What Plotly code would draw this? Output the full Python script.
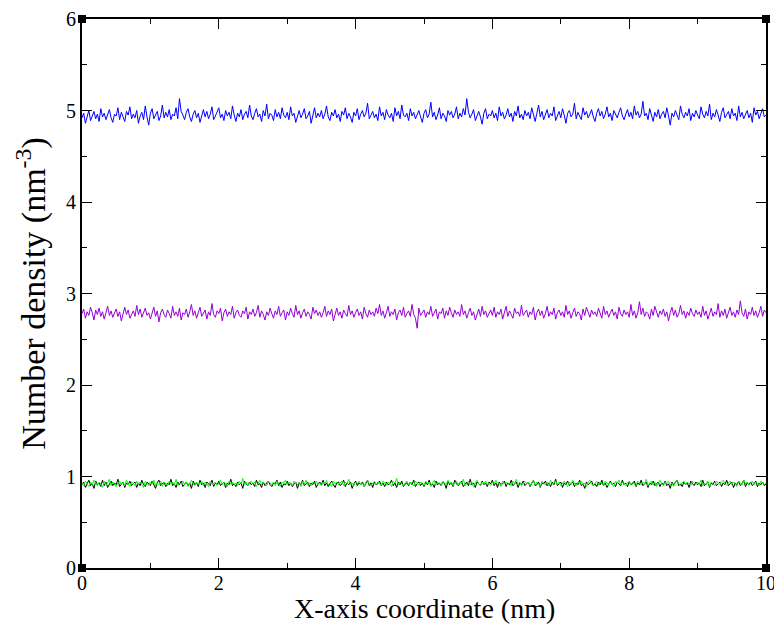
import plotly.graph_objects as go

x_step = 0.025
n_points = 401
x_vals = [round(i * x_step, 4) for i in range(n_points)]

blue_vals = [
4.92,4.97,4.86,4.94,5.00,4.89,4.95,4.99,4.91,4.96,4.88,5.02,4.93,4.97,4.90,4.95,5.01,4.92,4.87,4.96,
4.94,5.03,4.90,4.98,4.93,4.88,4.99,4.95,5.04,4.91,4.96,4.92,5.00,4.86,4.94,4.98,4.90,5.05,4.93,4.84,
4.97,5.02,4.91,4.95,4.99,4.89,4.94,5.06,4.92,4.98,4.93,5.01,4.90,4.96,4.94,5.03,4.91,5.13,4.99,4.95,
4.90,4.98,5.02,4.93,4.88,4.96,5.00,4.92,4.97,4.87,4.95,5.01,4.93,4.99,4.91,4.96,5.04,4.90,4.94,4.98,
5.03,4.92,4.96,4.89,5.00,4.94,4.98,4.91,5.05,4.95,4.88,4.97,4.93,5.01,4.90,4.96,4.99,4.92,5.06,4.94,
4.90,4.97,5.02,4.93,4.96,4.88,5.00,4.94,5.07,4.91,4.97,4.95,4.89,5.01,4.93,4.98,4.91,5.03,4.95,4.92,
4.98,4.90,5.04,4.94,4.97,4.87,4.95,5.00,4.92,4.96,5.02,4.91,4.94,4.99,4.86,4.95,5.03,4.92,4.97,4.93,
5.00,4.91,4.96,5.05,4.93,4.89,4.98,4.94,5.01,4.92,4.96,4.88,4.99,4.95,5.03,4.91,4.97,4.93,4.87,4.98,
4.94,5.02,4.90,4.96,5.00,4.93,4.97,5.08,4.91,4.95,4.99,4.92,4.96,4.89,5.04,4.94,4.98,4.90,5.01,4.95,
4.92,4.97,4.88,5.03,4.94,4.99,4.91,5.06,4.95,4.93,4.97,4.89,5.02,4.94,4.98,4.91,4.96,5.00,4.93,4.87,
4.97,5.01,4.92,4.96,5.09,4.93,4.98,4.90,4.95,5.03,4.91,4.97,4.94,4.88,5.00,4.95,4.99,4.92,4.96,5.04,
4.91,4.97,4.93,5.02,4.95,5.13,4.98,4.92,4.96,5.01,4.89,4.95,4.99,4.93,4.85,4.97,5.02,4.91,4.96,4.94,
5.00,4.92,4.97,4.89,5.04,4.94,4.98,4.91,4.95,5.02,4.93,4.97,4.88,4.99,4.94,5.05,4.92,4.96,4.90,5.00,
4.94,4.98,4.91,5.03,4.95,4.88,4.97,5.06,4.93,4.99,4.90,4.96,5.01,4.92,4.97,4.94,5.04,4.89,4.95,4.99,
4.92,5.02,4.95,4.86,4.97,5.00,4.93,4.96,5.08,4.91,4.98,4.94,4.90,5.03,4.95,4.99,4.92,4.96,5.01,4.93,
4.88,4.97,5.02,4.94,4.99,4.91,4.96,5.04,4.93,4.97,4.89,5.00,4.95,4.92,4.98,5.03,4.94,4.90,4.96,5.01,
4.93,4.98,4.91,5.05,4.95,4.99,4.92,4.96,5.10,4.94,4.97,4.90,5.02,4.95,4.88,4.98,4.93,5.01,4.91,4.96,
4.99,4.92,5.03,4.94,4.84,4.97,4.93,5.00,4.95,4.90,5.05,4.96,4.92,4.98,4.94,5.02,4.89,4.97,4.93,5.00,
4.95,4.91,5.04,4.96,4.92,4.99,4.94,5.07,4.90,4.97,4.93,5.01,4.95,4.88,4.98,5.03,4.92,4.96,4.99,4.91,
5.02,4.94,4.97,4.89,5.05,4.93,4.98,4.91,4.96,5.00,4.92,4.97,4.87,5.03,4.95,4.99,4.91,4.96,5.02,4.93,
4.95]

purple_vals = [
2.78,2.83,2.73,2.80,2.76,2.85,2.79,2.71,2.82,2.77,2.84,2.75,2.80,2.72,2.79,2.86,2.76,2.81,2.74,2.78,
2.83,2.75,2.80,2.70,2.79,2.85,2.77,2.82,2.73,2.78,2.81,2.75,2.87,2.77,2.83,2.74,2.80,2.84,2.76,2.79,
2.72,2.78,2.85,2.75,2.81,2.69,2.79,2.83,2.77,2.74,2.82,2.78,2.73,2.86,2.76,2.80,2.75,2.84,2.71,2.79,
2.77,2.83,2.74,2.80,2.88,2.76,2.81,2.73,2.78,2.85,2.75,2.79,2.82,2.72,2.80,2.76,2.89,2.77,2.74,2.81,
2.78,2.84,2.70,2.79,2.83,2.75,2.80,2.77,2.86,2.73,2.79,2.82,2.76,2.74,2.81,2.78,2.85,2.72,2.80,2.77,
2.83,2.75,2.79,2.87,2.74,2.81,2.77,2.71,2.80,2.76,2.84,2.78,2.73,2.81,2.77,2.86,2.75,2.79,2.82,2.71,
2.80,2.76,2.84,2.78,2.74,2.87,2.77,2.81,2.73,2.79,2.83,2.75,2.80,2.77,2.72,2.85,2.78,2.82,2.76,2.80,
2.74,2.79,2.86,2.75,2.81,2.77,2.83,2.70,2.79,2.84,2.76,2.80,2.73,2.82,2.78,2.75,2.87,2.77,2.81,2.74,
2.79,2.83,2.76,2.80,2.72,2.85,2.78,2.74,2.82,2.77,2.80,2.75,2.84,2.78,2.88,2.76,2.81,2.73,2.79,2.86,
2.75,2.80,2.77,2.83,2.71,2.79,2.82,2.76,2.85,2.74,2.78,2.81,2.75,2.88,2.77,2.73,2.62,2.84,2.76,2.79,
2.82,2.74,2.80,2.77,2.86,2.75,2.79,2.83,2.72,2.80,2.78,2.84,2.73,2.81,2.76,2.85,2.79,2.74,2.82,2.77,
2.80,2.75,2.88,2.77,2.81,2.73,2.79,2.84,2.76,2.80,2.71,2.78,2.83,2.75,2.86,2.77,2.81,2.74,2.79,2.82,
2.76,2.85,2.74,2.80,2.77,2.83,2.72,2.79,2.86,2.75,2.81,2.77,2.73,2.84,2.78,2.80,2.75,2.87,2.76,2.79,
2.82,2.74,2.80,2.77,2.85,2.71,2.79,2.83,2.76,2.81,2.73,2.78,2.86,2.75,2.80,2.77,2.84,2.72,2.79,2.82,
2.76,2.80,2.74,2.87,2.77,2.81,2.73,2.79,2.84,2.75,2.80,2.78,2.71,2.83,2.76,2.85,2.79,2.74,2.82,2.77,
2.80,2.75,2.84,2.78,2.73,2.86,2.77,2.81,2.74,2.79,2.83,2.76,2.80,2.72,2.85,2.78,2.75,2.82,2.77,2.80,
2.74,2.88,2.76,2.81,2.73,2.79,2.91,2.77,2.84,2.75,2.80,2.78,2.72,2.83,2.76,2.86,2.79,2.74,2.81,2.77,
2.83,2.75,2.80,2.70,2.79,2.85,2.76,2.82,2.74,2.78,2.87,2.77,2.81,2.73,2.80,2.76,2.84,2.78,2.75,2.82,
2.77,2.80,2.74,2.86,2.76,2.81,2.72,2.79,2.84,2.75,2.80,2.77,2.89,2.74,2.81,2.76,2.83,2.73,2.79,2.85,
2.76,2.80,2.74,2.82,2.77,2.92,2.79,2.75,2.83,2.72,2.80,2.77,2.85,2.76,2.81,2.74,2.79,2.86,2.75,2.82,
2.79]

black_vals = [
0.91,0.94,0.88,0.93,0.96,0.90,0.92,0.87,0.95,0.91,0.93,0.89,0.96,0.90,0.94,0.88,0.92,0.95,0.90,0.93,
0.91,0.97,0.89,0.92,0.94,0.88,0.93,0.91,0.95,0.90,0.92,0.94,0.88,0.93,0.90,0.96,0.91,0.89,0.94,0.92,
0.90,0.95,0.91,0.87,0.93,0.96,0.90,0.92,0.94,0.89,0.93,0.91,0.97,0.90,0.92,0.88,0.94,0.91,0.95,0.89,
0.92,0.94,0.90,0.93,0.87,0.95,0.91,0.93,0.89,0.96,0.91,0.93,0.88,0.94,0.92,0.90,0.96,0.89,0.93,0.91,
0.95,0.90,0.92,0.94,0.88,0.93,0.91,0.97,0.90,0.92,0.89,0.94,0.91,0.93,0.87,0.95,0.92,0.90,0.94,0.91,
0.93,0.89,0.96,0.91,0.92,0.88,0.94,0.90,0.93,0.95,0.91,0.89,0.93,0.92,0.96,0.90,0.94,0.88,0.92,0.91,
0.95,0.90,0.93,0.89,0.92,0.94,0.87,0.93,0.91,0.96,0.90,0.92,0.94,0.89,0.93,0.91,0.95,0.88,0.92,0.94,
0.91,0.96,0.90,0.93,0.89,0.92,0.95,0.91,0.88,0.93,0.94,0.90,0.92,0.96,0.89,0.93,0.91,0.94,0.87,0.92,
0.95,0.90,0.93,0.91,0.94,0.89,0.92,0.96,0.90,0.93,0.88,0.94,0.91,0.92,0.95,0.90,0.93,0.89,0.94,0.91,
0.92,0.96,0.90,0.93,0.88,0.94,0.91,0.95,0.89,0.92,0.93,0.90,0.94,0.91,0.96,0.89,0.92,0.94,0.90,0.93,
0.89,0.94,0.91,0.96,0.90,0.92,0.88,0.95,0.91,0.93,0.90,0.94,0.92,0.87,0.95,0.91,0.93,0.89,0.96,0.92,
0.90,0.93,0.95,0.89,0.92,0.94,0.90,0.97,0.91,0.93,0.88,0.94,0.92,0.90,0.95,0.91,0.93,0.89,0.94,0.92,
0.96,0.90,0.93,0.88,0.94,0.91,0.92,0.95,0.89,0.93,0.91,0.96,0.90,0.92,0.94,0.88,0.93,0.91,0.95,0.90,
0.92,0.94,0.89,0.93,0.96,0.90,0.91,0.94,0.88,0.93,0.92,0.95,0.90,0.93,0.89,0.94,0.91,0.97,0.90,0.92,
0.94,0.88,0.93,0.91,0.95,0.90,0.92,0.94,0.89,0.93,0.91,0.96,0.90,0.92,0.87,0.94,0.91,0.93,0.95,0.90,
0.92,0.89,0.94,0.91,0.96,0.90,0.93,0.88,0.92,0.95,0.91,0.93,0.89,0.94,0.92,0.90,0.96,0.91,0.93,0.89,
0.94,0.91,0.92,0.95,0.89,0.93,0.91,0.96,0.90,0.92,0.94,0.88,0.93,0.91,0.95,0.90,0.92,0.94,0.89,0.93,
0.91,0.95,0.90,0.92,0.87,0.94,0.91,0.93,0.96,0.90,0.92,0.89,0.94,0.91,0.93,0.88,0.95,0.92,0.90,0.94,
0.91,0.93,0.89,0.96,0.90,0.92,0.94,0.88,0.93,0.91,0.95,0.90,0.92,0.94,0.89,0.93,0.91,0.96,0.90,0.92,
0.94,0.88,0.93,0.91,0.95,0.90,0.92,0.96,0.89,0.93,0.91,0.94,0.90,0.92,0.95,0.89,0.93,0.91,0.94,0.90,
0.92]

green_vals = [
0.93,0.90,0.95,0.92,0.89,0.94,0.91,0.96,0.93,0.90,0.94,0.92,0.88,0.95,0.91,0.93,0.97,0.90,0.94,0.92,
0.89,0.93,0.95,0.91,0.94,0.90,0.96,0.92,0.89,0.94,0.93,0.90,0.95,0.92,0.94,0.91,0.88,0.95,0.93,0.90,
0.94,0.92,0.96,0.90,0.93,0.91,0.95,0.89,0.94,0.92,0.90,0.95,0.92,0.94,0.91,0.97,0.90,0.93,0.92,0.95,
0.91,0.94,0.89,0.93,0.96,0.92,0.90,0.94,0.91,0.93,0.95,0.90,0.94,0.92,0.89,0.95,0.93,0.91,0.94,0.90,
0.93,0.96,0.91,0.94,0.92,0.89,0.95,0.92,0.94,0.91,0.93,0.90,0.95,0.92,0.98,0.91,0.94,0.90,0.93,0.95,
0.92,0.94,0.89,0.93,0.96,0.91,0.94,0.92,0.90,0.95,0.93,0.91,0.94,0.90,0.95,0.92,0.89,0.94,0.93,0.96,
0.91,0.94,0.92,0.90,0.95,0.93,0.91,0.94,0.89,0.95,0.92,0.96,0.91,0.93,0.90,0.94,0.92,0.95,0.91,0.93,
0.90,0.94,0.92,0.96,0.91,0.93,0.89,0.95,0.92,0.94,0.91,0.93,0.95,0.90,0.94,0.92,0.97,0.91,0.93,0.90,
0.94,0.92,0.95,0.91,0.93,0.89,0.94,0.96,0.92,0.90,0.93,0.95,0.91,0.94,0.92,0.90,0.95,0.93,0.91,0.94,
0.92,0.89,0.95,0.93,0.98,0.91,0.94,0.92,0.90,0.93,0.95,0.91,0.94,0.92,0.90,0.95,0.93,0.91,0.94,0.92,
0.90,0.95,0.92,0.94,0.89,0.93,0.96,0.91,0.94,0.92,0.90,0.95,0.93,0.91,0.96,0.92,0.94,0.90,0.93,0.95,
0.91,0.94,0.92,0.97,0.90,0.93,0.95,0.91,0.94,0.89,0.93,0.96,0.92,0.90,0.94,0.92,0.95,0.91,0.93,0.90,
0.94,0.92,0.96,0.91,0.93,0.89,0.95,0.92,0.94,0.91,0.93,0.90,0.95,0.92,0.97,0.91,0.94,0.90,0.93,0.95,
0.92,0.94,0.90,0.93,0.96,0.91,0.94,0.92,0.89,0.95,0.93,0.91,0.94,0.90,0.96,0.92,0.93,0.95,0.91,0.94,
0.90,0.93,0.95,0.92,0.89,0.94,0.91,0.96,0.93,0.90,0.94,0.92,0.95,0.91,0.93,0.89,0.94,0.96,0.92,0.90,
0.93,0.95,0.91,0.94,0.92,0.90,0.95,0.93,0.91,0.94,0.92,0.89,0.95,0.93,0.96,0.91,0.94,0.92,0.90,0.93,
0.95,0.91,0.94,0.92,0.90,0.95,0.93,0.91,0.94,0.92,0.97,0.90,0.93,0.95,0.91,0.94,0.89,0.93,0.96,0.92,
0.90,0.94,0.92,0.95,0.91,0.93,0.89,0.94,0.96,0.92,0.90,0.93,0.95,0.91,0.94,0.92,0.90,0.95,0.93,0.91,
0.94,0.92,0.96,0.90,0.93,0.91,0.95,0.89,0.94,0.92,0.90,0.95,0.93,0.91,0.94,0.96,0.92,0.90,0.93,0.95,
0.91,0.94,0.92,0.89,0.95,0.93,0.91,0.96,0.92,0.94,0.90,0.93,0.95,0.91,0.94,0.92,0.90,0.95,0.93,0.91,
0.93]

x_ticks = [0, 2, 4, 6, 8, 10]
y_ticks = [0, 1, 2, 3, 4, 5, 6]
corner_x = [0, 10, 0, 10]
corner_y = [0, 0, 6, 6]
x_title = "X-axis coordinate (nm)"
y_title = "Number density (nm<sup>-3</sup>)"

series = [
    ("black", black_vals, "#000000"),
    ("green", green_vals, "#00ff00"),
    ("violet", purple_vals, "#9400d3"),
    ("blue", blue_vals, "#0000ff"),
]

fig = go.Figure()
for name, vals, col in series:
    fig.add_trace(go.Scatter(x=x_vals, y=vals, mode="lines", name=name,
                             line=dict(color=col, width=1)))

fig.add_trace(go.Scatter(x=corner_x, y=corner_y, mode="markers",
                         marker=dict(symbol="square", size=8, color="black"),
                         cliponaxis=False, hoverinfo="skip"))

font_family = "Liberation Serif"
axis_common = dict(showline=True, linewidth=2, linecolor="black", mirror="allticks",
                   ticks="inside", ticklen=10, tickwidth=1, tickcolor="black",
                   showgrid=False, zeroline=False, automargin=False,
                   tickfont=dict(family=font_family, size=20, color="black"))

fig.update_layout(
    width=774, height=616,
    margin=dict(l=74, r=16, t=11, b=56),
    paper_bgcolor="white", plot_bgcolor="white",
    showlegend=False,
    xaxis=dict(range=[0, 10], tickvals=x_ticks, ticklabelstandoff=-4,
               minor=dict(ticks="inside", ticklen=5, dtick=1, tickcolor="black", showgrid=False),
               **axis_common),
    yaxis=dict(range=[0, 6], tickvals=y_ticks,
               minor=dict(ticks="inside", ticklen=5, dtick=0.5, tickcolor="black", showgrid=False),
               title=dict(text=y_title, font=dict(family=font_family, size=34, color="black"), standoff=10),
               **axis_common),
    annotations=[dict(text=x_title, xref="paper", yref="paper", x=0.5, y=0,
                      xanchor="center", yanchor="middle", yshift=-40, showarrow=False,
                      font=dict(family=font_family, size=28, color="black"))],
)

fig.write_html("out.html")
